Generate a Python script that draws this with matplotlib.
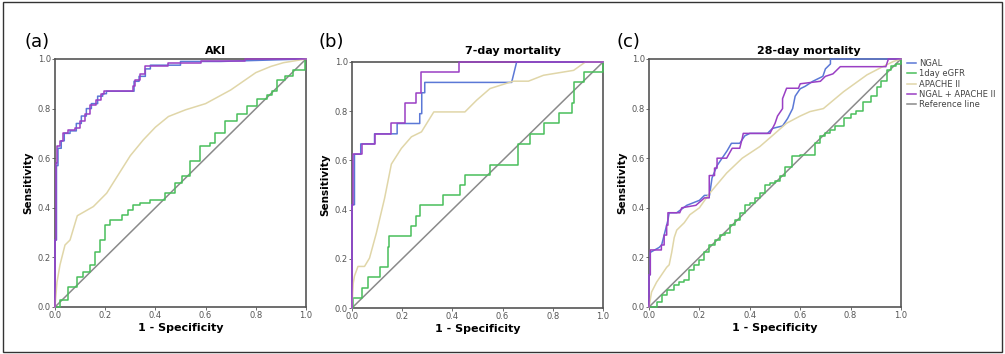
#!/usr/bin/env python3
"""ROC curves for AKI, 7-day and 28-day mortality (NGAL, eGFR, APACHE II)."""

import matplotlib
matplotlib.use("Agg")
import matplotlib.pyplot as plt
from matplotlib.patches import Rectangle


SERIES = ["NGAL", "1day eGFR", "APACHE II", "NGAL + APACHE II", "Reference line"]
COLORS = ["#5b78d6", "#49bf5b", "#e0d6a8", "#9a3fc4", "#8a8a8a"]
TITLES = ["AKI", "7-day mortality", "28-day mortality"]
PANEL_TAGS = ["(a)", "(b)", "(c)"]

# ---- (a) AKI ----
aki_ngal_x = [0, 0, 0.006, 0.006, 0.012, 0.012, 0.025, 0.025, 0.037, 0.037, 0.06, 0.06,
              0.085, 0.085, 0.105, 0.105, 0.125, 0.125, 0.145, 0.145, 0.17, 0.17, 0.19,
              0.19, 0.205, 0.205, 0.315, 0.315, 0.335, 0.335, 0.36, 0.36, 0.38, 0.38,
              0.5, 0.5, 0.66, 1.0]
aki_ngal_y = [0, 0.27, 0.27, 0.57, 0.57, 0.64, 0.64, 0.67, 0.67, 0.70, 0.70, 0.71,
              0.71, 0.74, 0.74, 0.77, 0.77, 0.80, 0.80, 0.82, 0.82, 0.85, 0.85,
              0.86, 0.86, 0.87, 0.87, 0.91, 0.91, 0.93, 0.93, 0.96, 0.96, 0.975,
              0.975, 0.99, 0.99, 1.0]
aki_egfr_x = [0, 0.02, 0.02, 0.053, 0.053, 0.086, 0.086, 0.113, 0.113, 0.139, 0.139,
              0.159, 0.159, 0.179, 0.179, 0.199, 0.199, 0.219, 0.219, 0.266, 0.266,
              0.292, 0.292, 0.312, 0.312, 0.339, 0.339, 0.378, 0.378, 0.438, 0.438,
              0.478, 0.478, 0.505, 0.505, 0.538, 0.538, 0.578, 0.578, 0.618, 0.618,
              0.637, 0.637, 0.677, 0.677, 0.724, 0.724, 0.764, 0.764, 0.803, 0.803,
              0.843, 0.843, 0.863, 0.863, 0.883, 0.883, 0.916, 0.916, 0.949, 0.949,
              0.995, 0.995]
aki_egfr_y = [0, 0, 0.03, 0.03, 0.08, 0.08, 0.12, 0.12, 0.14, 0.14, 0.17, 0.17,
              0.22, 0.22, 0.27, 0.27, 0.33, 0.33, 0.35, 0.35, 0.37, 0.37, 0.39, 0.39,
              0.41, 0.41, 0.42, 0.42, 0.43, 0.43, 0.46, 0.46, 0.50, 0.50, 0.53, 0.53,
              0.59, 0.59, 0.65, 0.65, 0.66, 0.66, 0.70, 0.70, 0.75, 0.75, 0.78, 0.78,
              0.81, 0.81, 0.84, 0.84, 0.855, 0.855, 0.87, 0.87, 0.915, 0.915, 0.93,
              0.93, 0.955, 0.955, 1.0]
aki_apache_x = [0, 0.008, 0.02, 0.04, 0.06, 0.089, 0.153, 0.206, 0.252, 0.30, 0.352,
                0.40, 0.452, 0.52, 0.60, 0.70, 0.80, 0.86, 0.91, 1.0]
aki_apache_y = [0, 0.10, 0.17, 0.25, 0.27, 0.368, 0.405, 0.459, 0.533, 0.61, 0.674,
                0.725, 0.768, 0.795, 0.82, 0.875, 0.945, 0.97, 0.985, 1.0]
aki_combo_x = [0, 0, 0.005, 0.005, 0.01, 0.01, 0.02, 0.02, 0.033, 0.033, 0.053, 0.053,
               0.08, 0.08, 0.10, 0.10, 0.12, 0.12, 0.14, 0.14, 0.165, 0.165, 0.185,
               0.185, 0.195, 0.195, 0.31, 0.31, 0.32, 0.32, 0.34, 0.34, 0.358, 0.358,
               0.45, 0.45, 0.58, 0.58, 0.757, 0.757, 1.0]
aki_combo_y = [0, 0.27, 0.27, 0.58, 0.58, 0.65, 0.65, 0.67, 0.67, 0.70, 0.70, 0.714,
               0.714, 0.72, 0.72, 0.748, 0.748, 0.78, 0.78, 0.815, 0.815, 0.835, 0.835,
               0.86, 0.86, 0.871, 0.871, 0.89, 0.89, 0.915, 0.915, 0.94, 0.94, 0.97,
               0.97, 0.985, 0.985, 0.992, 0.992, 1.0, 1.0]

# ---- (b) 7-day mortality ----
d7_ngal_x = [0, 0, 0.01, 0.01, 0.035, 0.035, 0.09, 0.09, 0.18, 0.18, 0.27, 0.27,
             0.278, 0.278, 0.29, 0.29, 0.636, 0.656, 1.0]
d7_ngal_y = [0, 0.42, 0.42, 0.625, 0.625, 0.667, 0.667, 0.708, 0.708, 0.75, 0.75,
             0.79, 0.79, 0.875, 0.875, 0.917, 0.917, 1.0, 1.0]
d7_egfr_x = [0, 0.005, 0.005, 0.04, 0.04, 0.064, 0.064, 0.113, 0.113, 0.144, 0.144,
             0.148, 0.148, 0.237, 0.237, 0.257, 0.257, 0.27, 0.27, 0.364, 0.364, 0.43,
             0.43, 0.45, 0.45, 0.55, 0.55, 0.663, 0.663, 0.71, 0.71, 0.763, 0.763,
             0.823, 0.823, 0.876, 0.876, 0.883, 0.883, 0.923, 0.923, 1.0, 1.0]
d7_egfr_y = [0, 0, 0.04, 0.04, 0.083, 0.083, 0.125, 0.125, 0.167, 0.167, 0.25, 0.25,
             0.292, 0.292, 0.333, 0.333, 0.375, 0.375, 0.417, 0.417, 0.458, 0.458,
             0.5, 0.5, 0.542, 0.542, 0.583, 0.583, 0.667, 0.667, 0.708, 0.708, 0.75,
             0.75, 0.792, 0.792, 0.833, 0.833, 0.917, 0.917, 0.958, 0.958, 1.0]
d7_apache_x = [0, 0.005, 0.01, 0.024, 0.05, 0.07, 0.097, 0.13, 0.157, 0.197, 0.237,
               0.277, 0.326, 0.45, 0.497, 0.55, 0.643, 0.703, 0.763, 0.883, 0.93, 1.0]
d7_apache_y = [0, 0.10, 0.13, 0.169, 0.169, 0.203, 0.304, 0.446, 0.585, 0.649, 0.696,
               0.716, 0.797, 0.797, 0.845, 0.892, 0.922, 0.922, 0.946, 0.966, 1.0, 1.0]
d7_combo_x = [0, 0, 0.005, 0.005, 0.04, 0.04, 0.09, 0.09, 0.157, 0.157, 0.21, 0.21,
              0.256, 0.256, 0.274, 0.274, 0.426, 0.426, 1.0]
d7_combo_y = [0, 0.42, 0.42, 0.625, 0.625, 0.667, 0.667, 0.708, 0.708, 0.75, 0.75,
              0.833, 0.833, 0.875, 0.875, 0.958, 0.958, 1.0, 1.0]

# ---- (c) 28-day mortality ----
d28_ngal_x = [0, 0, 0.005, 0.005, 0.04, 0.05, 0.06, 0.07, 0.075, 0.08, 0.11, 0.15,
              0.20, 0.22, 0.24, 0.25, 0.27, 0.29, 0.31, 0.327, 0.36, 0.38, 0.40,
              0.47, 0.49, 0.53, 0.55, 0.57, 0.58, 0.60, 0.62, 0.65, 0.69, 0.70, 0.72,
              0.72, 1.0]
d28_ngal_y = [0, 0.13, 0.13, 0.22, 0.24, 0.25, 0.29, 0.33, 0.35, 0.38, 0.38, 0.41,
              0.43, 0.45, 0.45, 0.52, 0.57, 0.60, 0.63, 0.66, 0.66, 0.69, 0.70,
              0.70, 0.72, 0.73, 0.76, 0.80, 0.85, 0.88, 0.89, 0.91, 0.93, 0.96, 0.98,
              1.0, 1.0]
d28_egfr_x = [0, 0.03, 0.05, 0.07, 0.10, 0.12, 0.14, 0.16, 0.18, 0.20, 0.22, 0.24,
              0.26, 0.28, 0.30, 0.32, 0.34, 0.36, 0.38, 0.40, 0.42, 0.44, 0.46, 0.48,
              0.50, 0.52, 0.54, 0.566, 0.60, 0.64, 0.66, 0.68, 0.70, 0.72, 0.74, 0.772,
              0.80, 0.82, 0.851, 0.88, 0.905, 0.92, 0.944, 0.96, 0.98, 1.0]
d28_egfr_y = [0, 0.02, 0.05, 0.07, 0.09, 0.10, 0.11, 0.15, 0.17, 0.19, 0.22, 0.25,
              0.27, 0.29, 0.30, 0.33, 0.35, 0.38, 0.41, 0.42, 0.44, 0.46, 0.49, 0.50,
              0.51, 0.53, 0.566, 0.607, 0.613, 0.613, 0.66, 0.69, 0.70, 0.714, 0.73,
              0.761, 0.78, 0.79, 0.828, 0.85, 0.889, 0.91, 0.956, 0.97, 0.98, 1.0]
d28_apache_x = [0, 0.01, 0.03, 0.05, 0.07, 0.08, 0.09, 0.10, 0.11, 0.14, 0.162,
                0.20, 0.241, 0.308, 0.37, 0.44, 0.50, 0.546, 0.60, 0.639, 0.692,
                0.772, 0.865, 0.92, 0.97, 1.0]
d28_apache_y = [0, 0.06, 0.10, 0.13, 0.16, 0.17, 0.22, 0.28, 0.31, 0.34, 0.372,
                0.40, 0.459, 0.54, 0.60, 0.647, 0.70, 0.741, 0.77, 0.788, 0.80,
                0.868, 0.936, 0.965, 0.99, 1.0]
d28_combo_x = [0, 0, 0.005, 0.005, 0.049, 0.049, 0.06, 0.06, 0.07, 0.07, 0.075, 0.075,
               0.122, 0.13, 0.186, 0.22, 0.239, 0.239, 0.26, 0.26, 0.27, 0.27, 0.308,
               0.33, 0.36, 0.37, 0.374, 0.48, 0.50, 0.51, 0.53, 0.53, 0.546, 0.593,
               0.60, 0.68, 0.70, 0.73, 0.759, 0.94, 0.95, 1.0]
d28_combo_y = [0, 0.13, 0.13, 0.23, 0.23, 0.25, 0.25, 0.29, 0.29, 0.33, 0.33, 0.38,
               0.38, 0.40, 0.41, 0.44, 0.44, 0.53, 0.53, 0.56, 0.56, 0.60, 0.60,
               0.64, 0.64, 0.68, 0.70, 0.70, 0.74, 0.77, 0.80, 0.84, 0.882, 0.882,
               0.90, 0.91, 0.93, 0.94, 0.969, 0.969, 1.0, 1.0]

PANELS = [
    [(aki_ngal_x, aki_ngal_y), (aki_egfr_x, aki_egfr_y),
     (aki_apache_x, aki_apache_y), (aki_combo_x, aki_combo_y)],
    [(d7_ngal_x, d7_ngal_y), (d7_egfr_x, d7_egfr_y),
     (d7_apache_x, d7_apache_y), (d7_combo_x, d7_combo_y)],
    [(d28_ngal_x, d28_ngal_y), (d28_egfr_x, d28_egfr_y),
     (d28_apache_x, d28_apache_y), (d28_combo_x, d28_combo_y)],
]

AXES_RECTS = [
    (0.0547, 0.1328, 0.2498, 0.7006),
    (0.3502, 0.1299, 0.2498, 0.6950),
    (0.6458, 0.1328, 0.2507, 0.7006),
]
TITLE_X = [215, 513, 809]
TAG_X = [24, 318, 616]


def main():
    fig = plt.figure(figsize=(10.05, 3.54), dpi=100)
    fig.patches.append(Rectangle((0.003, 0.006), 0.994, 0.988, transform=fig.transFigure,
                                 fill=False, edgecolor="#333333", linewidth=1.0))
    W, H = 1005.0, 354.0
    for i, curves in enumerate(PANELS):
        ax = fig.add_axes(AXES_RECTS[i])
        # reference line first, then the four curves
        ax.plot([0, 1], [0, 1], color=COLORS[4], linewidth=1.1, label=SERIES[4], zorder=2)
        for k in [2, 1, 0, 3]:
            xs, ys = curves[k]
            # the 28-day eGFR curve is a fine staircase along the diagonal
            style = "steps-post" if (i == 2 and k == 1) else "default"
            ax.plot(xs, ys, color=COLORS[k], linewidth=1.1, label=SERIES[k],
                    zorder=3 + k, clip_on=False, drawstyle=style)
        ax.set_xlim(0, 1)
        ax.set_ylim(0, 1)
        ticks = [0.0, 0.2, 0.4, 0.6, 0.8, 1.0]
        ax.set_xticks(ticks)
        ax.set_yticks(ticks)
        ax.set_xticklabels([f"{t:.1f}" for t in ticks])
        ax.set_yticklabels([f"{t:.1f}" for t in ticks])
        ax.tick_params(labelsize=6, colors="#555555", length=2, width=0.6, pad=1)
        for spine in ax.spines.values():
            spine.set_color("#555555")
            spine.set_linewidth(1.2)
        ax.set_xlabel("1 - Specificity", fontsize=8, fontweight="bold", labelpad=2)
        ax.set_ylabel("Sensitivity", fontsize=7.5, fontweight="bold", labelpad=3)
        fig.text(TITLE_X[i] / W, 1 - 51 / H, TITLES[i], fontsize=8, fontweight="bold",
                 ha="center", va="center")
        fig.text(TAG_X[i] / W, 1 - 42 / H, PANEL_TAGS[i], fontsize=13,
                 ha="left", va="center")
        if i == 2:
            handles, labels = ax.get_legend_handles_labels()
            wanted = [labels.index(s) for s in SERIES]
            leg = ax.legend([handles[j] for j in wanted], SERIES, loc="upper left",
                            bbox_to_anchor=(1.005, 1.02), frameon=False, fontsize=6,
                            handlelength=1.0, handletextpad=0.4, labelspacing=0.15,
                            borderaxespad=0.2)
            for t in leg.get_texts():
                t.set_color("#444444")
    fig.savefig("out.png", dpi=100)


if __name__ == "__main__":
    main()
